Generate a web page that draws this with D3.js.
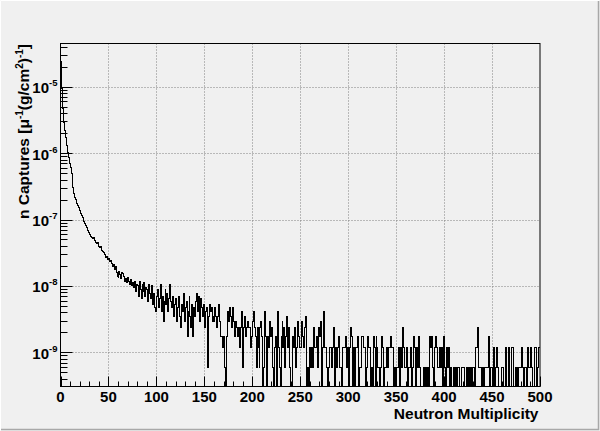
<!DOCTYPE html>
<html><head><meta charset="utf-8">
<script src="https://cdn.jsdelivr.net/npm/d3@7"></script>
<style>html,body{margin:0;padding:0;background:#f0f0f0;} svg{display:block;}</style>
</head><body>
<svg id="chart" width="600" height="431"></svg>
<script>
// ---- data (bin counts per unit multiplicity, bins 0..499) ----
const binCounts = [
41000,16000,8000,5000,3700,2900,2200,1750,1450,1200,
1050,850,650,520,420,370,340,300,280,255,
230,210,195,180,160,150,140,128,118,108,
100,96,92,88,90,82,80,78,74,76,
68,64,66,58,56,54,50,46,48,42,
44,40,41,37,34,36,30,33,27,24,
23,28,25,22,27,26,24,20,22,19,
23,20,18,21,17,19,16,20,14,18,
17,12,20,15,11,18,14,19,12,16,
15,10,18,13,11,17,9,13,8,7,
12,15,8,11,18,7,12,5,10,15,
9,13,7,11,18,10,8,12,6,9,
11,5,8,12,6,4,9,7,13,5,
8,10,3,7,12,6,4,9,3,8,
6,10,13,7,12,5,11,8,6,9,
4,7,8,1,6,9,7,8,5,6,
5,8,6,4,6,9,5,3,3,2,
3,1,0,3,7,5,8,6,4,8,
5,3,4,5,4,3,4,2,4,7,
1,4,6,3,4,5,4,4,2,3,
5,7,4,3,1,4,2,1,4,5,
3,0,1,7,3,0,3,2,5,3,
4,1,0,2,3,0,7,2,1,0,
3,5,2,4,1,3,6,2,4,1,
0,0,3,2,4,1,2,5,3,2,
2,5,3,2,4,6,3,0,1,0,
2,1,2,1,4,2,2,3,1,4,
3,5,0,2,7,2,2,1,0,1,
2,2,2,1,2,4,0,2,1,2,
3,1,1,0,2,2,2,3,1,2,
0,2,4,3,2,0,2,0,2,2,
3,0,1,1,3,3,2,2,0,1,
3,2,2,0,1,0,3,2,0,3,
2,1,1,0,1,3,2,0,1,1,
2,1,2,2,3,2,2,0,1,0,
1,1,2,1,0,2,1,4,2,1,
1,2,0,1,1,2,0,1,3,2,
0,2,1,3,1,0,0,0,1,1,
0,1,0,1,0,3,2,3,1,0,
2,3,2,1,1,2,1,2,0,3,
1,0,2,2,1,2,0,1,0,0,
1,0,1,0,1,1,0,0,1,1,
1,0,0,1,0,1,1,0,1,0,
1,1,0,2,2,4,1,1,1,0,
1,0,1,1,1,1,3,0,1,1,
0,1,2,0,1,2,1,0,0,0,
1,1,0,0,2,0,0,2,0,0,
2,2,0,0,1,0,1,0,1,1,
1,2,1,0,1,1,0,2,1,1,
2,1,0,0,2,2,0,1,2,2
];
const countWeight = 5.86e-10;          // captures per count, µ^-1 (g/cm^2)^-1
const xDomain = [0, 500];
const yDomain = [3.05e-10, 4.48e-5];
const xMajorTicks = [0, 50, 100, 150, 200, 250, 300, 350, 400, 450, 500];
const xMinorTicks = d3.range(0, 501, 10);
const yDecadeExponents = [-9, -8, -7, -6, -5];
const xTitle = "Neutron Multiplicity";

// ---- layout ----
const W = 600, H = 431;
const L = 60.5, R = 540, T = 43.5, B = 386.5;
const FONT = "'Liberation Sans', Arial, Helvetica, sans-serif";

const svg = d3.select("#chart");
svg.append("rect").attr("x",0).attr("y",0).attr("width",W).attr("height",H).attr("fill","#f0f0f0");
// canvas bevel
svg.append("path").attr("d",`M0.5,${H-0.5}V0.5H${W-0.5}`).attr("fill","none").attr("stroke","#ffffff").attr("stroke-width",1);
svg.append("path").attr("d",`M${W-1.5},1V${H-1.5}H1`).attr("fill","none").attr("stroke","#a8a8a8").attr("stroke-width",1.5);

const x = d3.scaleLinear().domain(xDomain).range([L, R]);
const y = d3.scaleLog().domain(yDomain).range([B, T]).clamp(true);

// grid
const gGrid = svg.append("g").attr("stroke","#808080").attr("stroke-width",1).attr("stroke-dasharray","1,2").attr("fill","none");
gGrid.selectAll("line.gx").data(xMajorTicks.filter(v => v > xDomain[0] && v < xDomain[1])).join("line")
  .attr("x1", d => Math.round(x(d)) + 0.5).attr("x2", d => Math.round(x(d)) + 0.5).attr("y1", T).attr("y2", B);
gGrid.selectAll("line.gy").data(yDecadeExponents).join("line")
  .attr("y1", d => Math.round(y(Math.pow(10,d))) + 0.5).attr("y2", d => Math.round(y(Math.pow(10,d))) + 0.5).attr("x1", L).attr("x2", R);

// histogram (step)
let d = "";
binCounts.forEach((c, i) => {
  const yv = c > 0 ? y(c * countWeight) : B;
  d += (i === 0 ? `M${x(i)},${yv}` : `V${yv}`) + `H${x(i + 1)}`;
});
svg.append("path").attr("d", d).attr("fill","none").attr("stroke","#000").attr("stroke-width",1)
  .attr("shape-rendering","crispEdges");

// frame
svg.append("rect").attr("x",L).attr("y",T).attr("width",R-L).attr("height",B-T).attr("fill","none").attr("stroke","#000").attr("stroke-width",1);

// x ticks
const gAx = svg.append("g").attr("stroke","#000").attr("stroke-width",1);
gAx.selectAll("line.xm").data(xMinorTicks).join("line")
  .attr("x1", v => Math.round(x(v)) + 0.5).attr("x2", v => Math.round(x(v)) + 0.5)
  .attr("y1", B).attr("y2", v => xMajorTicks.includes(v) ? B - 10 : B - 5);
// y ticks
const yMinor = [];
yDecadeExponents.concat([-10, -4]).forEach(e => { for (let k = 2; k <= 9; k++) { const v = k * Math.pow(10, e); if (v > yDomain[0] && v < yDomain[1]) yMinor.push(v); } });
gAx.selectAll("line.ym").data(yMinor).join("line")
  .attr("x1", L).attr("x2", L + 7)
  .attr("y1", v => Math.round(y(v)) + 0.5).attr("y2", v => Math.round(y(v)) + 0.5);
gAx.selectAll("line.yM").data(yDecadeExponents).join("line")
  .attr("x1", L).attr("x2", L + 12)
  .attr("y1", e => Math.round(y(Math.pow(10,e))) + 0.5).attr("y2", e => Math.round(y(Math.pow(10,e))) + 0.5);

// x labels
svg.append("g").selectAll("text").data(xMajorTicks).join("text")
  .attr("x", v => x(v)).attr("y", 402.3).attr("text-anchor","middle")
  .attr("font-family", FONT).attr("font-weight","bold").attr("font-size", 15).attr("fill","#000")
  .text(v => v);

// y labels 10^e
const yl = svg.append("g").selectAll("text").data(yDecadeExponents).join("text")
  .attr("x", 57.5).attr("y", e => y(Math.pow(10,e)) + 6.6).attr("text-anchor","end")
  .attr("font-family", FONT).attr("font-weight","bold").attr("font-size", 15).attr("fill","#000");
yl.append("tspan").text("10");
yl.append("tspan").attr("font-size", 9.5).attr("dy", -7.2).text(e => String(e));

// x title
svg.append("text").attr("x", 538.5).attr("y", 419.3).attr("text-anchor","end")
  .attr("font-family", FONT).attr("font-weight","bold").attr("font-size", 15.5).attr("fill","#000")
  .text(xTitle);

// y title
const yt = svg.append("text").attr("transform","translate(29,44) rotate(-90)").attr("text-anchor","end")
  .attr("font-family", FONT).attr("font-weight","bold").attr("font-size", 15.5).attr("fill","#000");
yt.append("tspan").text("n Captures [\u03bc");
yt.append("tspan").attr("font-size", 10).attr("dy", -6).text("-1");
yt.append("tspan").attr("dy", 6).text("(g/cm");
yt.append("tspan").attr("font-size", 10).attr("dy", -6).text("2");
yt.append("tspan").attr("dy", 6).text(")");
yt.append("tspan").attr("font-size", 10).attr("dy", -6).text("-1");
yt.append("tspan").attr("dy", 6).text("]");
</script>
</body></html>
